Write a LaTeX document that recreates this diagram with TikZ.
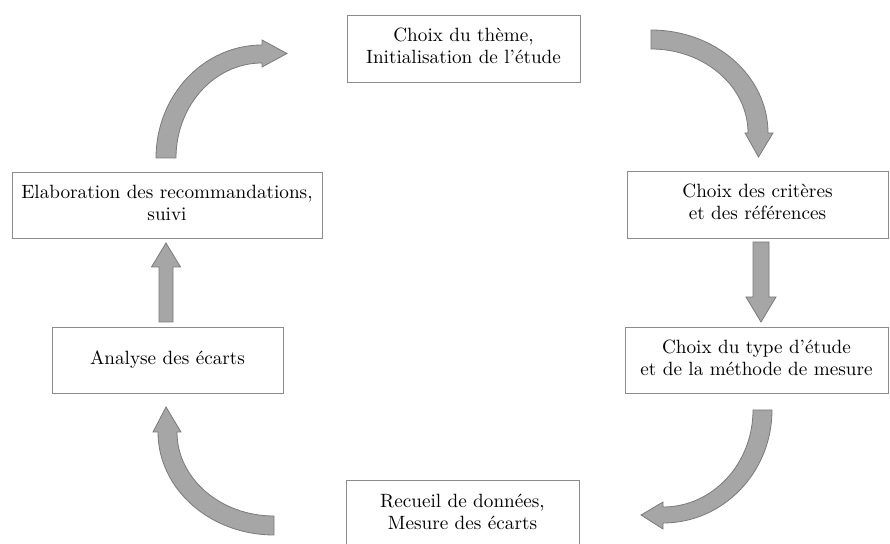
\documentclass[tikz,border=0pt]{standalone}
\usepackage{graphicx}
\usetikzlibrary{calc}
\definecolor{arrowfill}{HTML}{A6A6A6}
\definecolor{arrowline}{HTML}{7A7A7A}
\definecolor{boxline}{HTML}{8C8C8C}
\newcommand{\boxtext}[1]{\scalebox{1.92}{\fontsize{10}{11.46}\selectfont\begin{tabular}{@{}c@{}}#1\end{tabular}}}
\begin{document}
\begin{tikzpicture}[x=1pt,y=1pt,
  stepbox/.style={draw=boxline, line width=0.9pt, fill=white, inner sep=0pt, align=center},
  blockarrow/.style={fill=arrowfill, draw=arrowline, line width=0.8pt, line join=miter}]
\useasboundingbox (0,0) rectangle (890,543);
% boxes
\node[stepbox, minimum width=233, minimum height=67] (theme) at (463.5,494.5) {\boxtext{Choix du thème,\\Initialisation de l’étude}};
\node[stepbox, minimum width=261, minimum height=67] (criteres) at (757.5,338.5) {\boxtext{Choix des critères\\et des références}};
\node[stepbox, minimum width=263, minimum height=66] (type) at (756.5,183) {\boxtext{Choix du type d’étude\\et de la méthode de mesure}};
\node[stepbox, minimum width=233, minimum height=67] (recueil) at (462.5,29) {\boxtext{Recueil de données,\\Mesure des écarts}};
\node[stepbox, minimum width=231, minimum height=66] (analyse) at (167.5,183) {\boxtext{Analyse des écarts}};
\node[stepbox, minimum width=310, minimum height=66] (elab) at (167,338) {\boxtext{Elaboration des recommandations,\\suivi}};
% top-left curved arrow (elab -> theme)
\draw[blockarrow] (156,385) arc[start angle=180, end angle=90, x radius=106, y radius=113]
  -- (262,503) -- (287,489.5) -- (262,476) -- (262,480)
  arc[start angle=90, end angle=180, x radius=86, y radius=95] -- cycle;
% top-right curved arrow (theme -> criteres)
\draw[blockarrow] (651,513) arc[start angle=90, end angle=0, x radius=117, y radius=103]
  -- (773,410) -- (758.5,386) -- (745,410) -- (748,410)
  arc[start angle=0, end angle=90, x radius=97, y radius=84] -- cycle;
% straight down arrow (criteres -> type)
\draw[blockarrow] (753,301) -- (769,301) -- (769,246) -- (776,246) -- (761,221) -- (746,246) -- (753,246) -- cycle;
% bottom-right curved arrow (type -> recueil)
\draw[blockarrow] (772,133) arc[start angle=0, end angle=-90, x radius=109, y radius=113]
  -- (663,14) -- (641,28) -- (663,41) -- (663,36)
  arc[start angle=-90, end angle=0, x radius=90, y radius=97] -- cycle;
% bottom-left curved arrow (recueil -> analyse)
\draw[blockarrow] (274,8) arc[start angle=270, end angle=180, x radius=116, y radius=103]
  -- (153,111) -- (166,136) -- (181,111) -- (177,111)
  arc[start angle=180, end angle=270, x radius=97, y radius=84] -- cycle;
% straight up arrow (analyse -> elab)
\draw[blockarrow] (159,221) -- (173,221) -- (173,276) -- (180.5,276) -- (166,300) -- (151.5,276) -- (159,276) -- cycle;
\end{tikzpicture}
\end{document}
